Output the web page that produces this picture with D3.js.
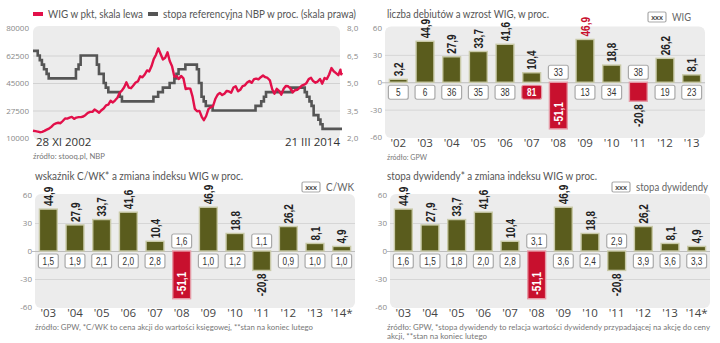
<!DOCTYPE html>
<html>
<head>
<meta charset="utf-8">
<script src="https://cdn.jsdelivr.net/npm/d3@7/dist/d3.min.js"></script>
<style>
  body { margin: 0; background: #fff; }
  svg text { font-family: Lato, "Liberation Sans", sans-serif; }
</style>
</head>
<body>
<script>
// --- dane: WIG (pkt) i stopa referencyjna NBP (proc.)
var wigDates = ["2002-11-28","2002-12-31",
 "2003-01-31","2003-02-28","2003-03-31","2003-04-30","2003-05-31","2003-06-30","2003-07-31","2003-08-31","2003-09-30","2003-10-31","2003-11-30","2003-12-31",
 "2004-01-31","2004-02-29","2004-03-31","2004-04-30","2004-05-31","2004-06-30","2004-07-31","2004-08-31","2004-09-30","2004-10-31","2004-11-30","2004-12-31",
 "2005-01-31","2005-02-28","2005-03-31","2005-04-30","2005-05-31","2005-06-30","2005-07-31","2005-08-31","2005-09-30","2005-10-31","2005-11-30","2005-12-31",
 "2006-01-31","2006-02-28","2006-03-31","2006-04-30","2006-05-31","2006-06-30","2006-07-31","2006-08-31","2006-09-30","2006-10-31","2006-11-30","2006-12-31",
 "2007-01-31","2007-02-28","2007-03-31","2007-04-30","2007-05-31","2007-06-30","2007-07-31","2007-08-31","2007-09-30","2007-10-31","2007-11-30","2007-12-31",
 "2008-01-31","2008-02-29","2008-03-31","2008-04-30","2008-05-31","2008-06-30","2008-07-31","2008-08-31","2008-09-30","2008-10-31","2008-11-30","2008-12-31",
 "2009-01-31","2009-02-28","2009-03-31","2009-04-30","2009-05-31","2009-06-30","2009-07-31","2009-08-31","2009-09-30","2009-10-31","2009-11-30","2009-12-31",
 "2010-01-31","2010-02-28","2010-03-31","2010-04-30","2010-05-31","2010-06-30","2010-07-31","2010-08-31","2010-09-30","2010-10-31","2010-11-30","2010-12-31",
 "2011-01-31","2011-02-28","2011-03-31","2011-04-30","2011-05-31","2011-06-30","2011-07-31","2011-08-31","2011-09-30","2011-10-31","2011-11-30","2011-12-31",
 "2012-01-31","2012-02-29","2012-03-31","2012-04-30","2012-05-31","2012-06-30","2012-07-31","2012-08-31","2012-09-30","2012-10-31","2012-11-30","2012-12-31",
 "2013-01-31","2013-02-28","2013-03-31","2013-04-30","2013-05-31","2013-06-30","2013-07-31","2013-08-31","2013-09-30","2013-10-31","2013-11-30","2013-12-31",
 "2014-01-31","2014-02-28","2014-03-10","2014-03-21"];
var wigValues = [14600,14367,
 14100,13700,13900,14500,15300,16000,17100,18600,19300,19700,19400,20820,
 22400,22300,22900,23400,22200,23000,23300,23300,23700,24700,26000,26636,
 26600,28100,27200,26100,27700,28800,30700,31200,33700,32600,34000,35600,
 38900,40100,42300,45400,42100,41700,43400,45300,46000,49300,48600,50412,
 53000,52300,55600,60200,63000,67000,63500,60000,61000,64500,59000,55648,
 49000,49400,47600,49500,48000,41200,41500,41400,36300,28500,27000,27229,
 23500,21300,24000,28400,29600,30200,34800,37500,38700,37300,38200,39986,
 39600,38800,42100,42900,39700,40700,43000,43500,45300,46300,45100,47490,
 47800,47300,48700,49800,48700,48200,46700,41000,38200,41300,40000,37595,
 41300,43100,42900,41600,39000,40400,40700,41900,43300,43900,44900,47460,
 48300,46200,45200,45900,47600,44600,48200,47500,50400,54500,52500,51284,
 50000,53500,50500,51500];

var rateDates = ["2002-11-28","2003-01-30","2003-02-27","2003-03-27","2003-04-24","2003-05-29","2003-06-26",
 "2004-06-24","2004-07-29","2004-08-26","2005-03-31","2005-04-28","2005-06-30","2005-07-28","2005-08-31",
 "2006-01-31","2006-03-01","2007-04-26","2007-06-28","2007-08-30","2007-11-29","2008-01-31","2008-02-28",
 "2008-03-27","2008-06-26","2008-11-27","2008-12-24","2009-01-28","2009-02-26","2009-03-26","2009-06-25",
 "2011-01-20","2011-04-06","2011-05-12","2011-06-09","2012-05-10","2012-11-08","2012-12-06","2013-01-10",
 "2013-02-07","2013-03-07","2013-05-09","2013-06-06","2013-07-04","2014-03-21"];
var rateValues = [6.75,6.5,6.25,6.0,5.75,5.5,5.25,
 5.75,6.0,6.5,6.0,5.5,5.0,4.75,4.5,
 4.25,4.0,4.25,4.5,4.75,5.0,5.25,5.5,
 5.75,6.0,5.75,5.0,4.25,4.0,3.75,3.5,
 3.75,4.0,4.25,4.5,4.75,4.5,4.25,4.0,
 3.75,3.25,3.0,2.75,2.5,2.5];

var wigTicks = [10000, 27500, 45000, 62500, 80000];
var rateTicks = [2.0, 3.5, 5.0, 6.5, 8.0];

// --- dane: słupki
var yearsA = ["02","03","04","05","06","07","08","09","10","11","12","13"];
var wigChangeA = [3.2, 44.9, 27.9, 33.7, 41.6, 10.4, -51.1, 46.9, 18.8, -20.8, 26.2, 8.1];
var debuts = [5, 6, 36, 35, 38, 81, 33, 13, 34, 38, 19, 23];

var yearsB = ["03","04","05","06","07","08","09","10","11","12","13","14*"];
var wigChangeB = [44.9, 27.9, 33.7, 41.6, 10.4, -51.1, 46.9, 18.8, -20.8, 26.2, 8.1, 4.9];
var cwk = ["1,5","1,9","2,1","2,0","2,8","1,6","1,0","1,2","1,1","0,9","1,0","1,0"];
var dividend = ["1,6","1,5","1,8","2,0","2,8","3,1","3,6","2,4","2,9","3,9","3,6","3,3"];

var barTicks = [-60, -30, 0, 30, 60];

var RED = "#c8102e", OLIVE = "#5a5c1d", PINK = "#e2104a", GREY = "#555";

var svg = d3.select("body").append("svg")
    .attr("width", 720)
    .attr("height", 343);

// tekst o zadanej szerokosci (krój waski w oryginale)
function label(parent, x, y, txt, size, color, width) {
  var t = parent.append("text").attr("x", x).attr("y", y).text(txt)
      .attr("fill", color).style("font-size", size + "px");
  if (width) t.attr("textLength", width).attr("lengthAdjust", "spacingAndGlyphs");
  return t;
}

// ================= wykres liniowy =================
var parse = d3.timeParse("%Y-%m-%d");
var wig = wigDates.map(function(d, i) { return [parse(d), wigValues[i]]; });
var rate = rateDates.map(function(d, i) { return [parse(d), rateValues[i]]; });

var lx = d3.scaleTime().domain([parse("2002-11-28"), parse("2014-03-21")]).range([33, 342]);
var lyL = d3.scaleLinear().domain([10000, 80000]).range([138, 28]);
var lyR = d3.scaleLinear().domain([2, 8]).range([138, 28]);

svg.append("rect")
    .attr("x", 33).attr("y", 26).attr("width", 307).attr("height", 114)
    .attr("rx", 6).attr("fill", "#ececec");

svg.append("g")
    .attr("transform", "translate(33,0)")
    .call(d3.axisLeft(lyL).tickValues(wigTicks).tickSize(-307).tickPadding(4)
      .tickFormat(function(d) { return d; }))
    .call(function(g) {
      g.select(".domain").remove();
      g.selectAll("line").attr("stroke", function(d) { return (d == 10000 || d == 80000) ? "none" : "#d2d2d2"; });
      g.selectAll("text").attr("fill", "#888").style("font-family", "Open Sans").style("font-size", "8px");
    });

svg.append("g")
    .attr("transform", "translate(345,0)")
    .call(d3.axisRight(lyR).tickValues(rateTicks).tickSize(0).tickPadding(2)
      .tickFormat(function(d) { return d3.format(".1f")(d).replace(".", ","); }))
    .call(function(g) {
      g.select(".domain").remove();
      g.selectAll("text").attr("fill", "#888").style("font-family", "Open Sans").style("font-size", "8px");
    });

svg.append("path")
    .attr("d", d3.line().curve(d3.curveStepAfter)
      .x(function(d) { return lx(d[0]); })
      .y(function(d) { return lyR(d[1]); })(rate))
    .attr("fill", "none").attr("stroke", GREY).attr("stroke-width", 2.6);

svg.append("path")
    .attr("d", d3.line()
      .x(function(d) { return lx(d[0]); })
      .y(function(d) { return lyL(d[1]); })(wig))
    .attr("fill", "none").attr("stroke", PINK).attr("stroke-width", 2.4)
    .attr("stroke-linejoin", "round");

// legenda
svg.append("line").attr("x1", 33).attr("x2", 43).attr("y1", 14).attr("y2", 14)
    .attr("stroke", PINK).attr("stroke-width", 4);
label(svg, 48, 18, "WIG w pkt, skala lewa", 11, "#555", 95);
svg.append("line").attr("x1", 148).attr("x2", 158).attr("y1", 14).attr("y2", 14)
    .attr("stroke", GREY).attr("stroke-width", 4);
label(svg, 163, 18, "stopa referencyjna NBP w proc. (skala prawa)", 11, "#555", 193);

svg.append("text").attr("x", 36).attr("y", 146).text("28 XI 2002")
    .attr("fill", "#333").style("font-family", "Open Sans").style("font-size", "11.5px");
svg.append("text").attr("x", 340).attr("y", 146).attr("text-anchor", "end").text("21 III 2014")
    .attr("fill", "#333").style("font-family", "Open Sans").style("font-size", "11.5px");
label(svg, 33, 159, "źródło: stooq.pl, NBP", 7.6, "#777", 72);

// ================= wykresy słupkowe =================
function barPanel(cfg) {
  var g = svg.append("g");
  var x = d3.scaleBand().domain(cfg.years).range([cfg.x0, cfg.x1])
      .paddingInner(0.33).paddingOuter(0.165);
  var y = d3.scaleLinear().domain([-60, 60]).range([cfg.yb, cfg.yt]);
  var w = cfg.x1 - cfg.x0;

  g.append("rect")
      .attr("x", cfg.x0).attr("y", cfg.yt - 1).attr("width", w).attr("height", cfg.yb - cfg.yt + 2)
      .attr("rx", 6).attr("fill", "#ececec");

  g.append("g")
      .attr("transform", "translate(" + cfg.x0 + ",0)")
      .call(d3.axisLeft(y).tickValues(barTicks).tickSize(-w).tickPadding(3)
        .tickFormat(function(d) { return String(d); }))
      .call(function(a) {
        a.select(".domain").remove();
        a.selectAll("line")
          .attr("stroke", function(d) { return d == 0 ? "#bdbdbd" : (Math.abs(d) == 60 ? "none" : "#d6d6d6"); })
          .attr("x2", function(d) { return d == 0 ? -3 : 0; })
          .attr("x1", w);
        a.selectAll("text").attr("fill", "#888").style("font-family", "Open Sans").style("font-size", "8px");
      });

  g.append("g")
      .attr("transform", "translate(0," + (cfg.yb + 1) + ")")
      .call(d3.axisBottom(x).tickSize(0).tickPadding(1)
        .tickFormat(function(d) { return "'" + d; }))
      .call(function(a) {
        a.select(".domain").remove();
        a.selectAll("text").attr("fill", "#444").style("font-family", "Open Sans").style("font-size", "11.5px");
      });

  var y0 = y(0);
  g.selectAll("rect.bar").data(cfg.values).enter().append("rect")
      .attr("class", "bar")
      .attr("x", function(d, i) { return x(cfg.years[i]); })
      .attr("width", x.bandwidth())
      .attr("y", function(d) { return d >= 0 ? y(d) : y0; })
      .attr("height", function(d) { return Math.abs(y(d) - y0); })
      .attr("fill", function(d, i) { return cfg.barColor(d, i); })
      .attr("stroke", function(d, i) { return cfg.barColor(d, i) == RED ? "#e59aa6" : "#c9caa8"; })
      .attr("stroke-width", 1.4);

  g.selectAll("text.val").data(cfg.values).enter().append("text")
      .attr("class", "val")
      .attr("transform", function(d, i) {
        var cx = x(cfg.years[i]) + x.bandwidth() / 2;
        var yy;
        if (d >= 0) yy = y(d) - 3;
        else if (d < -40) yy = y(d) - 4;
        else yy = y(d) + 3;
        return "translate(" + cx + "," + yy + ") rotate(-90) scale(0.8,1)";
      })
      .attr("dy", "0.36em")
      .attr("text-anchor", function(d) { return (d >= 0 || d < -40) ? "start" : "end"; })
      .attr("fill", function(d, i) { return d < -40 ? "#fff" : cfg.labelColor(d, i); })
      .style("font-family", "Liberation Sans")
      .style("font-weight", "bold").style("font-size", "12.5px")
      .text(function(d) { return String(d).replace(".", ","); });

  var bw = x.bandwidth() + 2;
  var boxes = g.selectAll("g.box").data(cfg.boxes).enter().append("g")
      .attr("class", "box")
      .attr("transform", function(d, i) {
        var bx = x(cfg.years[i]) - 1;
        var by = cfg.values[i] >= 0 ? y0 + 3 : y0 - 17;
        return "translate(" + bx + "," + by + ")";
      });
  boxes.append("rect")
      .attr("width", bw).attr("height", 14).attr("rx", 2)
      .attr("fill", function(d, i) { return cfg.boxHighlight(i) ? RED : "#fff"; })
      .attr("stroke", function(d, i) { return cfg.boxHighlight(i) ? "#e59aa6" : "#a9a9a9"; })
      .attr("stroke-width", 1.2);
  boxes.append("text")
      .attr("transform", "translate(" + (bw / 2) + ",11) scale(0.75,1)")
      .attr("text-anchor", "middle")
      .attr("fill", function(d, i) { return cfg.boxHighlight(i) ? "#fff" : "#333"; })
      .style("font-family", "Liberation Sans")
      .style("font-weight", function(d, i) { return cfg.boxHighlight(i) ? "bold" : "normal"; })
      .style("font-size", "11px")
      .text(function(d) { return d; });

  // tytuł, legenda, źródło
  label(g, cfg.titleX, cfg.titleY, cfg.title, 11, "#555", cfg.titleW);
  g.append("rect").attr("x", cfg.legX).attr("y", cfg.legY).attr("width", 18).attr("height", 10)
      .attr("rx", 1.5).attr("fill", "#fff").attr("stroke", "#a9a9a9").attr("stroke-width", 1.2);
  g.append("text").attr("x", cfg.legX + 9).attr("y", cfg.legY + 7.5).attr("text-anchor", "middle")
      .text("xxx").attr("fill", "#444").style("font-size", "7.5px").style("font-weight", "bold");
  label(g, cfg.legX + 24, cfg.legY + 9, cfg.legend, 11, "#666", cfg.legendW);
  cfg.source.forEach(function(s, k) {
    label(g, cfg.titleX, cfg.sourceY + k * 9, s, 7.6, "#777", cfg.sourceW[k]);
  });
}

barPanel({
  years: yearsA, values: wigChangeA, boxes: debuts,
  x0: 385, x1: 705, yt: 27.5, yb: 137,
  barColor: function(d) { return d < 0 ? RED : OLIVE; },
  labelColor: function(d, i) { return d == 46.9 ? RED : "#222"; },
  boxHighlight: function(i) { return debuts[i] == 81; },
  title: "liczba debiutów a wzrost WIG, w proc.", titleX: 387, titleY: 18, titleW: 162,
  legX: 648, legY: 12, legend: "WIG", legendW: 19,
  source: ["źródło: GPW"], sourceY: 160, sourceW: [40]
});

barPanel({
  years: yearsB, values: wigChangeB, boxes: cwk,
  x0: 35, x1: 355, yt: 195, yb: 307,
  barColor: function(d) { return d < -40 ? RED : OLIVE; },
  labelColor: function() { return "#222"; },
  boxHighlight: function() { return false; },
  title: "wskaźnik C/WK* a zmiana indeksu WIG w proc.", titleX: 35, titleY: 180, titleW: 208,
  legX: 302, legY: 182, legend: "C/WK", legendW: 28,
  source: ["źródło: GPW, *C/WK to cena akcji do wartości księgowej, **stan na koniec lutego"], sourceY: 330, sourceW: [278]
});

barPanel({
  years: yearsB, values: wigChangeB, boxes: dividend,
  x0: 390, x1: 710, yt: 195, yb: 307,
  barColor: function(d) { return d < -40 ? RED : OLIVE; },
  labelColor: function() { return "#222"; },
  boxHighlight: function() { return false; },
  title: "stopa dywidendy* a zmiana indeksu WIG w proc.", titleX: 387, titleY: 180, titleW: 210,
  legX: 612, legY: 182, legend: "stopa dywidendy", legendW: 72,
  source: ["źródło: GPW, *stopa dywidendy to relacja wartości dywidendy przypadającej na akcję do ceny",
           "akcji, **stan na koniec lutego"], sourceY: 330, sourceW: [323, 100]
});
</script>
</body>
</html>
